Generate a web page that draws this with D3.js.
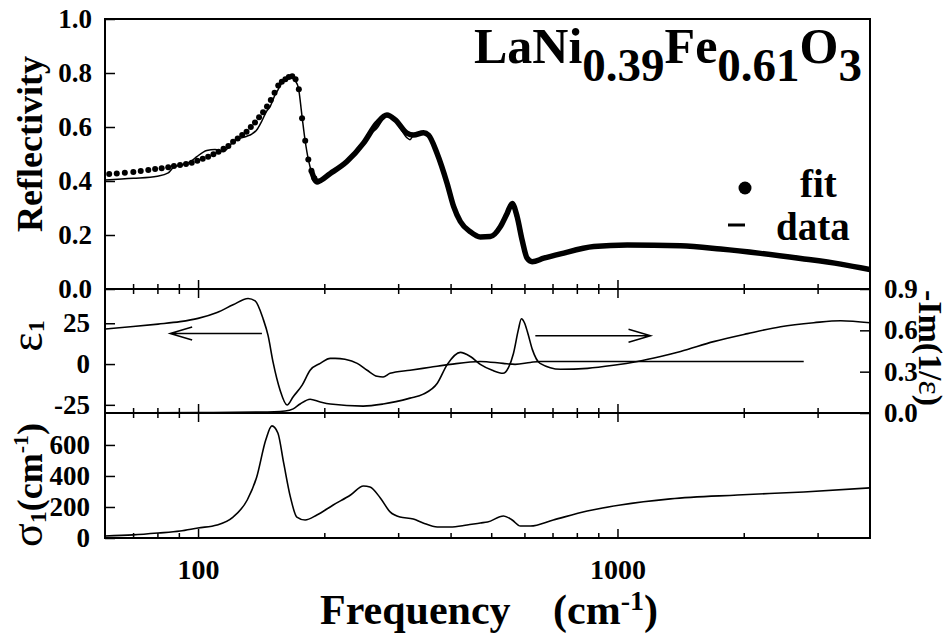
<!DOCTYPE html>
<html><head><meta charset="utf-8">
<script src="https://cdn.jsdelivr.net/npm/d3@7"></script>
<style>
body{margin:0;background:#fff}
text{font-family:"Liberation Serif","Times New Roman",serif;font-weight:bold;fill:#000}
</style>
</head><body><svg id="c" width="951" height="637"></svg>
<script>
// ---------- data ----------
const xTickMajor = [100, 1000];
const xTickMinor = [70, 80, 90, 200, 300, 400, 500, 600, 700, 800, 900, 2000, 3000];
const xTickLabels = ["100", "1000"];
const reflTicks = [0, 0.2, 0.4, 0.6, 0.8, 1.0];
const eps1Ticks = [-25, 0, 25];
const lossTicks = [0, 0.3, 0.6, 0.9];
const sigmaTicks = [0, 200, 400, 600];

// fit (dots, sparse low-frequency part)
const fitDotFreq = [61.4,64.0,66.9,70.1,73.0,76.1,79.0,81.9,84.9,87.6,90.6,93.6,96.6,99.6,102.6,105.7,108.8,111.9,115.0,118.1,121.2,124.3,127.4,130.5,133.6,136.7,139.8,142.9,146.0,149.1,152.2,155.3,158.4,161.5,164.6,167.7,170.8,173.9,177.0,180.1,183.2,186.3,189.4,192.5];
const fitDotR = [0.426,0.428,0.431,0.433,0.437,0.441,0.444,0.447,0.451,0.456,0.459,0.463,0.468,0.475,0.482,0.490,0.499,0.508,0.519,0.530,0.545,0.557,0.570,0.582,0.600,0.617,0.636,0.655,0.676,0.700,0.727,0.754,0.768,0.777,0.785,0.788,0.777,0.740,0.632,0.549,0.480,0.438,0.410,0.398];
// fit (dense dots that merge into a thick trace)
const fitLineFreq = [186.3,192.0,206.7,226.4,248.0,267.0,282.1,295.3,314.8,326.4,344.9,354.5,371.3,392.5,406.9,422.0,445.9,470.9,497.6,525.9,545.6,560.8,576.4,592.5,608.9,625.9,667.1,731.2,878,1055,1414,1761,2194,2734,3406,4000];
const fitLineR = [0.438,0.397,0.428,0.472,0.540,0.614,0.644,0.626,0.577,0.570,0.579,0.570,0.503,0.391,0.305,0.250,0.212,0.193,0.194,0.231,0.280,0.317,0.268,0.181,0.114,0.101,0.114,0.130,0.157,0.163,0.160,0.148,0.132,0.113,0.092,0.072];
// measured reflectivity (thin line)
const dataFreq = [60,70.1,80,84.9,87.6,90.6,96.6,99.3,104.9,109.8,114.9,118.1,121.2,125.9,130.7,134.3,138.1,141.9,145.9,148.5,152.7,155,158.5,162.8,167.2,170.4,173.5,176.8,180,183.3,186.8,192,206.7,226.4,248,260,267,275,282,295,305,314.8,320,326.4,344.9,354.5,371.3,392.5,406.9,422.0,445.9,470.9,497.6,525.9,545.6,560.8,576.4,592.5,608.9,625.9,667.1,731.2,878,1055,1414,1761,2194,2734,3406,4000];
const dataR = [0.404,0.410,0.418,0.430,0.452,0.458,0.475,0.490,0.513,0.517,0.508,0.525,0.545,0.558,0.566,0.574,0.590,0.622,0.660,0.675,0.720,0.737,0.765,0.780,0.787,0.772,0.745,0.645,0.550,0.478,0.430,0.400,0.427,0.470,0.537,0.580,0.595,0.625,0.640,0.625,0.590,0.560,0.553,0.570,0.580,0.570,0.503,0.391,0.305,0.250,0.212,0.193,0.194,0.231,0.280,0.317,0.268,0.181,0.114,0.101,0.114,0.130,0.157,0.163,0.160,0.148,0.132,0.113,0.092,0.072];

// epsilon_1 (left axis, middle panel)
const eps1Freq = [60,70,80.3,90.6,100,111,121.2,131.6,136.8,142.9,146.9,151,156.9,163,168.6,177.1,185,195.6,206.7,212.2,224,239.6,253,267.2,276.2,286.9,320.2,357.7,399.4,470.9,533.3,570.2,619.6,653.7,908.7,2780];
const eps1Val = [21.5,23,24.5,26,28,31.6,36.3,40.2,38.7,27.8,17.4,1,-16,-25.1,-20,-12.9,-3.8,0.4,3.5,3.5,2.9,0.4,-3.8,-7.5,-7.9,-5.7,-3.8,-2,-0.2,1.6,0.4,-0.2,1,1.6,1.6,1.6];
// -Im(1/eps) (right axis, middle panel)
const lossFreq = [60,100,140.6,161.3,168.6,175.1,185,195.6,206.7,247.6,276.2,320.2,344.4,371.9,392.9,422,445.9,470.9,503,533.3,549.6,564.9,580.4,590.1,600,609.9,626.8,653.7,731.2,848.2,978.3,1116,1267,1414,1695,2043,2449,2937,3406,4000];
const lossVal = [0.002,0.003,0.007,0.015,0.03,0.065,0.10,0.08,0.065,0.05,0.065,0.108,0.137,0.216,0.353,0.44,0.41,0.353,0.31,0.288,0.33,0.432,0.605,0.684,0.655,0.59,0.46,0.36,0.317,0.324,0.346,0.374,0.41,0.446,0.518,0.576,0.626,0.655,0.67,0.655];
// sigma_1 (bottom panel)
const sigmaFreq = [60,70,80.3,90.6,100,111,121.2,131,138,145,150,155,160,166,172,180,192,210,231,248,257,272,287,303,326,344,372,399,438,471,490,535,561,587,620,703,847,1016,1337,1932,2780,4000];
const sigmaVal = [13,20,32,45,65,84,135,245,393,632,723,677,484,265,135,116,148,213,277,335,329,258,168,135,123,97,71,71,84,97,103,142,116,77,77,116,174,213,252,277,297,323];

// ---------- layout ----------
const L = 105, R = 870;
const TOP = [19, 289], MID = [289, 413], BOT = [413, 538];
const svg = d3.select("#c");
const x = d3.scaleLog().domain([60, 4000]).range([L, R]);
const yR = d3.scaleLinear().domain([0, 1]).range([TOP[1], TOP[0]]);
const yE = d3.scaleLinear().domain([-30, 46]).range([MID[1], MID[0]]);
const yL = d3.scaleLinear().domain([0, 0.9]).range([MID[1], MID[0]]);
const yS = d3.scaleLinear().domain([0, 806]).range([BOT[1], BOT[0]]);

const defs = svg.append("defs");
[["clipTop", TOP], ["clipMid", MID], ["clipBot", BOT]].forEach(([id, p]) => {
  defs.append("clipPath").attr("id", id).append("rect")
    .attr("x", L).attr("y", p[0]).attr("width", R - L).attr("height", p[1] - p[0]);
});

// x ticks on panel edges
function xTicks(y, inwardDown) {
  [[xTickMajor, 9], [xTickMinor, 5]].forEach(([vals, len]) => {
    const axis = (inwardDown ? d3.axisTop(x) : d3.axisBottom(x)).tickValues(vals).tickSize(-len).tickFormat("");
    const g = svg.append("g").attr("transform", `translate(0,${y})`).call(axis);
    g.select(".domain").remove();
    g.selectAll("line").attr("stroke", "#000").attr("stroke-width", 1.5);
  });
}
xTicks(TOP[1], false);
xTicks(MID[0], true);
xTicks(MID[1], false);
xTicks(BOT[0], true);
xTicks(BOT[1], false);

function styleAxis(g, size) {
  g.select(".domain").remove();
  g.attr("font-family", null).attr("font-size", size);
  g.selectAll("line").attr("stroke", "#000").attr("stroke-width", 1.5);
  g.selectAll("text").style("font-weight", "bold");
}
// y axes
styleAxis(svg.append("g").attr("transform", `translate(${L},0)`)
  .call(d3.axisLeft(yR).tickValues(reflTicks).tickSize(-10).tickPadding(13).tickFormat(d3.format(".1f"))), 27);
styleAxis(svg.append("g").attr("transform", `translate(${L},0)`)
  .call(d3.axisLeft(yE).tickValues(eps1Ticks).tickSize(-10).tickPadding(15).tickFormat(d => String(d))), 27);
styleAxis(svg.append("g").attr("transform", `translate(${R},0)`)
  .call(d3.axisRight(yL).tickValues(lossTicks).tickSize(-10).tickPadding(14).tickFormat(d3.format(".1f"))), 27);
styleAxis(svg.append("g").attr("transform", `translate(${L},0)`)
  .call(d3.axisLeft(yS).tickValues(sigmaTicks).tickSize(-10).tickPadding(15).tickFormat(d3.format("d"))), 27);
// x tick labels
styleAxis(svg.append("g").attr("transform", `translate(0,${BOT[1]})`)
  .call(d3.axisBottom(x).tickValues(xTickMajor).tickSize(0).tickPadding(21).tickFormat((d, i) => xTickLabels[i])), 28);

// frames
[TOP, MID, BOT].forEach(p => {
  svg.append("rect").attr("x", L).attr("y", p[0]).attr("width", R - L).attr("height", p[1] - p[0])
    .attr("fill", "none").attr("stroke", "#000").attr("stroke-width", 2);
});

// ---------- curves ----------
function curve(fs, vs, ys, clip, w) {
  svg.append("path").attr("clip-path", `url(#${clip})`)
    .datum(d3.zip(fs, vs))
    .attr("fill", "none").attr("stroke", "#000").attr("stroke-width", w).attr("stroke-linejoin", "round")
    .attr("d", d3.line().x(d => x(d[0])).y(d => ys(d[1])).curve(d3.curveMonotoneX));
}
curve(dataFreq, dataR, yR, "clipTop", 1.5);
curve(fitLineFreq, fitLineR, yR, "clipTop", 5.5);
svg.append("g").selectAll("circle").data(d3.zip(fitDotFreq, fitDotR)).join("circle")
  .attr("cx", d => x(d[0])).attr("cy", d => yR(d[1])).attr("r", 3).attr("fill", "#000");

curve(eps1Freq, eps1Val, yE, "clipMid", 1.6);
curve(lossFreq, lossVal, yL, "clipMid", 1.6);
curve(sigmaFreq, sigmaVal, yS, "clipBot", 1.6);

// arrows
function arrow(f0, f1, v) {
  const xa = x(f0), xb = x(f1), yy = yE(v), dir = xb > xa ? -1 : 1;
  svg.append("path").attr("fill", "none").attr("stroke", "#000").attr("stroke-width", 1.5)
    .attr("d", `M${xa},${yy}L${xb},${yy}M${xb + dir * 22},${yy - 6.5}L${xb},${yy}L${xb + dir * 22},${yy + 6.5}`);
}
arrow(142, 85.8, 18.7);
arrow(637, 1199, 17.4);

// ---------- texts ----------
const title = svg.append("text").attr("x", 474).attr("y", 63).attr("font-size", 50);
title.append("tspan").text("LaNi");
title.append("tspan").attr("dy", 18).attr("font-size", 47).text("0.39");
title.append("tspan").attr("dy", -18).text("Fe");
title.append("tspan").attr("dy", 18).attr("font-size", 47).text("0.61");
title.append("tspan").attr("dy", -18).text("O");
title.append("tspan").attr("dy", 18).attr("font-size", 47).text("3");

// legend
svg.append("circle").attr("cx", 745).attr("cy", 188).attr("r", 6.5).attr("fill", "#000");
svg.append("text").attr("x", 800).attr("y", 197).attr("font-size", 39).text("fit");
svg.append("line").attr("x1", 728).attr("x2", 745).attr("y1", 225).attr("y2", 225).attr("stroke", "#000").attr("stroke-width", 3);
svg.append("text").attr("x", 776).attr("y", 240).attr("font-size", 39).text("data");

// axis titles
svg.append("text").attr("transform", "translate(42,144) rotate(-90)").attr("text-anchor", "middle")
  .attr("font-size", 36).text("Reflectivity");

const e1 = svg.append("text").attr("transform", "translate(42,336) rotate(-90)").attr("text-anchor", "middle");
e1.append("tspan").attr("font-size", 46).style("font-weight", "normal").text("ε");
e1.append("tspan").attr("font-size", 24).attr("dy", 2).text("1");

const s1 = svg.append("text").attr("transform", "translate(42,485) rotate(-90)").attr("text-anchor", "middle").attr("font-size", 36);
s1.append("tspan").attr("font-size", 44).style("font-weight", "normal").text("σ");
s1.append("tspan").attr("font-size", 24).attr("dy", 4).text("1");
s1.append("tspan").attr("dy", -4).text("(cm");
s1.append("tspan").attr("font-size", 22).attr("dy", -14).text("-1");
s1.append("tspan").attr("dy", 14).text(")");

const im = svg.append("text").attr("transform", "translate(919,348) rotate(90)").attr("text-anchor", "middle").attr("font-size", 34);
im.append("tspan").text("-Im(1/");
im.append("tspan").style("font-weight", "normal").text("ε");
im.append("tspan").text(")");

const xt = svg.append("text").attr("x", 320).attr("y", 624).attr("font-size", 42);
xt.append("tspan").text("Frequency");
xt.append("tspan").attr("x", 553).text("(cm");
xt.append("tspan").attr("font-size", 28).attr("dy", -14).text("-1");
xt.append("tspan").attr("dy", 14).text(")");
</script>
</body></html>
